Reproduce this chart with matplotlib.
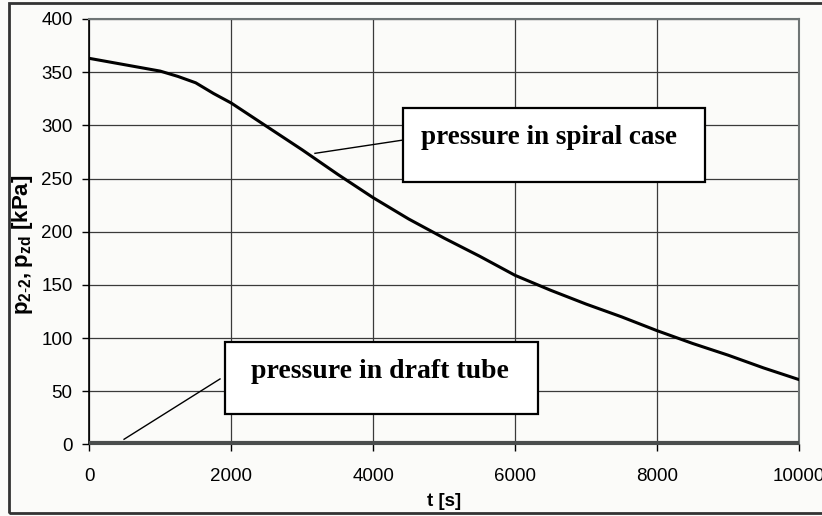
import matplotlib
matplotlib.use('Agg')
from matplotlib import pyplot as plt
from matplotlib.patches import Rectangle

# pressure in spiral case
t_spiral = [0, 250, 500, 750, 1000, 1250, 1500, 1750, 2000, 2500, 3000, 3500, 4000,
            4500, 5000, 5500, 6000, 6500, 7000, 7500, 8000, 8500, 9000, 9500, 10000]
p_spiral = [363, 360, 357, 354, 351, 346, 340, 330, 321, 299, 277, 254, 232,
            212, 194, 177, 159, 145, 132, 120, 107, 95, 84, 72, 61]

# pressure in draft tube (flat, close to zero)
t_draft = [0, 2000, 4000, 6000, 8000, 10000]
p_draft = [1, 1, 1, 1, 1, 1]

x_ticks = [0, 2000, 4000, 6000, 8000, 10000]
y_ticks = [0, 50, 100, 150, 200, 250, 300, 350, 400]

bg = '#fbfbf9'
plt.rcParams['mathtext.fontset'] = 'custom'
plt.rcParams['mathtext.rm'] = 'Liberation Sans'
plt.rcParams['mathtext.bf'] = 'Liberation Sans:bold'

fig = plt.figure(figsize=(8.22, 5.16), dpi=100, facecolor=bg)
ax = fig.add_axes([0.1086, 0.1386, 0.8634, 0.8246], facecolor=bg)

ax.plot(t_draft, p_draft, color='#4a4d4d', lw=3.0, zorder=3, solid_capstyle='butt')
ax.plot(t_spiral, p_spiral, color='black', lw=2.2, zorder=4)

ax.set_xlim(0, 10000)
ax.set_ylim(0, 400)
ax.set_xticks(x_ticks)
ax.set_yticks(y_ticks)
ax.grid(True, color='#3a3a3a', lw=0.9)
ax.set_axisbelow(True)

for side in ['top', 'right']:
    ax.spines[side].set_color('#6f7575')
    ax.spines[side].set_linewidth(1.5)
ax.spines['left'].set_color('black')
ax.spines['left'].set_linewidth(1.2)
ax.spines['bottom'].set_color('#4a4d4d')

ax.tick_params(axis='both', direction='out', length=5, width=1, labelsize=13.5,
               colors='black')
ax.tick_params(axis='x', pad=12)
ax.tick_params(axis='y', pad=7)
for lbl in ax.get_xticklabels() + ax.get_yticklabels():
    lbl.set_fontfamily('Liberation Sans')

ax.set_xlabel('t [s]', fontsize=13.5, fontweight='bold', family='Liberation Sans')
ax.xaxis.set_label_coords(0.5, -0.115)
ax.set_ylabel(r'$\mathbf{p_{2\text{-}2}, p_{zd}}$ [kPa]', fontsize=16,
              fontweight='bold', family='Liberation Sans')
ax.yaxis.set_label_coords(-0.0765, 0.47)

# annotation boxes
ax.add_patch(Rectangle((4417, 246.7), 8675 - 4417, 316.3 - 246.7, facecolor='white',
                       edgecolor='black', lw=1.6, zorder=6))
ax.text(6477, 289, 'pressure in spiral case', ha='center', va='center', fontsize=19.5,
        fontweight='bold', family='Liberation Serif', zorder=7)
ax.plot([3180, 4402], [273.7, 286], color='black', lw=1, zorder=5)

ax.add_patch(Rectangle((1916, 28.4), 6327 - 1916, 96 - 28.4, facecolor='white',
                       edgecolor='black', lw=1.6, zorder=6))
ax.text(4090, 69, 'pressure in draft tube', ha='center', va='center', fontsize=20,
        fontweight='bold', family='Liberation Serif', zorder=7)
ax.plot([490, 1842], [4.9, 61.6], color='black', lw=1, zorder=5)

# outer chart frame
fig.patches.append(Rectangle((9 / 822, 3 / 516), 1.1, 1 - 6 / 516, transform=fig.transFigure,
                             fill=False, edgecolor='#333333', lw=2))

fig.savefig('out.png', dpi=100, facecolor=bg)
